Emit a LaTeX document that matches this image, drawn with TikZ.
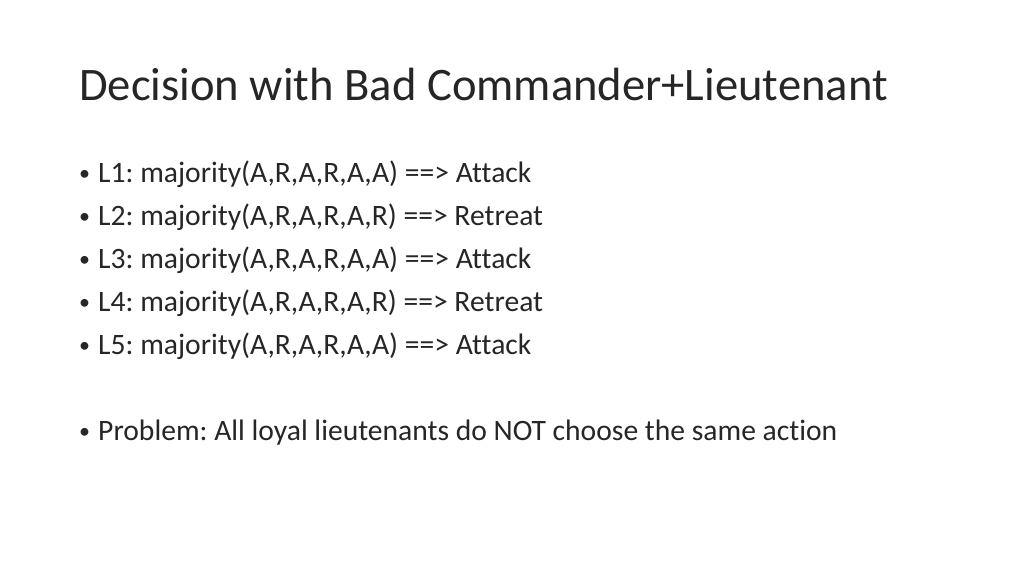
\documentclass[tikz,border=0pt]{standalone}
\usepackage{fontspec}
\setmainfont{Carlito}[Ligatures=NoCommon]
\frenchspacing
\begin{document}
\begin{tikzpicture}[x=1pt,y=-1pt,
  bul/.style={anchor=base west,inner sep=0pt,font=\frenchspacing\fontsize{29.6}{34}\selectfont,text=black!85},
  dot/.style={anchor=base west,inner sep=0pt,font=\fontsize{22}{26}\selectfont,text=black!85}]
\useasboundingbox[fill=white] (0,0) rectangle (1024,576);
\node[anchor=base west,inner sep=0pt,font=\fontsize{46.6}{50}\selectfont,text=black!85] (title) at (79,100) {Decision with Bad Commander+Lieutenant};
\foreach \t/\n/\y in {{L1: majority(A,R,A,R,A,A) ==> Attack}/a/182,{L2: majority(A,R,A,R,A,R) ==> Retreat}/b/225,{L3: majority(A,R,A,R,A,A) ==> Attack}/c/268,{L4: majority(A,R,A,R,A,R) ==> Retreat}/d/311,{L5: majority(A,R,A,R,A,A) ==> Attack}/e/354,{Problem: All loyal lieutenants do NOT choose the same action}/f/440}{
  \node[dot] (d\n) at (79,\y-2) {•};
  \node[bul] (t\n) at (98,\y) {\t};
}
\end{tikzpicture}
\end{document}
